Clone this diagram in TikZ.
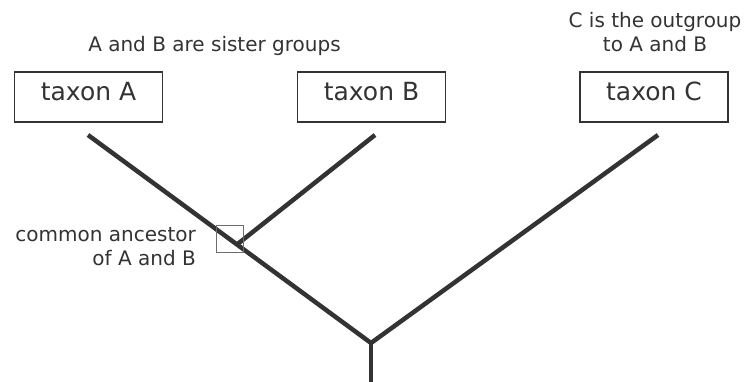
\documentclass[tikz,border=0pt]{standalone}
\usepackage{fontspec}
\setmainfont{DejaVu Sans}
\usetikzlibrary{positioning}
\definecolor{inkgray}{HTML}{333333}
\tikzset{
  taxonbox/.style={draw=inkgray, line width=1.8pt, minimum width=148pt,
                   minimum height=50pt, inner sep=0pt, text=inkgray,
                   font=\fontsize{25}{30}\selectfont, text height=0.73em, text depth=0pt},
  notetext/.style={font=\fontsize{20}{24}\selectfont, text=inkgray, inner sep=0pt},
  branch/.style={draw=inkgray, line width=4.5pt},
  ancestorbox/.style={draw=gray!85!black, line width=1pt, minimum size=27pt, inner sep=0pt},
}

\begin{document}
\begin{tikzpicture}[x=1pt, y=-1pt]
  \useasboundingbox (0,0) rectangle (752,382);

  % taxa
  \node[taxonbox] (taxA) at (88.5,97) {taxon A};
  \node[taxonbox] (taxB) at (371.5,97) {taxon B};
  \node[taxonbox] (taxC) at (654,97) {taxon C};

  % notes
  \node[notetext, anchor=base] (sister) at (214.5,52) {A and B are sister groups};
  \node[notetext, anchor=base, align=center] (outgrp) at (655,52) {C is the outgroup\\to A and B};

  % tree
  \coordinate (tipA) at (88,135);
  \coordinate (tipB) at (375,135);
  \coordinate (tipC) at (658,135);
  \coordinate (root) at (371,343);
  \coordinate (base) at (371,382);
  \coordinate (fork) at (237,244.5);

  \draw[branch] (tipA) -- (root) -- (tipC);
  \foreach \a/\b in {root/base, tipB/fork} {
    \draw[branch] (\a) -- (\b);
  }

  % common ancestor
  \node[ancestorbox] (anc) at (229.5,239) {};
  \node[notetext, anchor=base east, align=right] (anclabel) at (196,265) {common ancestor\\of A and B};
\end{tikzpicture}
\end{document}
